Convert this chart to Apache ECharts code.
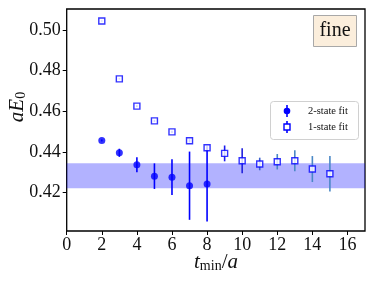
<!DOCTYPE html>
<html><head><meta charset="utf-8">
<script src="https://cdn.jsdelivr.net/npm/echarts@6/dist/echarts.min.js"></script>
<style>html,body{margin:0;padding:0;background:#fff}#c{width:374px;height:284px}</style>
</head><body><div id="c"></div>
<script>
const tmin2 = [2,3,4,5,6,7,8];
const e2 = [0.4456,0.4395,0.4336,0.4280,0.4275,0.4233,0.4241];
const err2 = [0.0005,0.0020,0.0037,0.0063,0.0088,0.0168,0.0184];
const tmin1 = [2,3,4,5,6,7,8,9,10,11,12,13,14,15];
const e1 = [0.5044,0.4759,0.4625,0.4552,0.4498,0.4454,0.4420,0.4392,0.4356,0.4340,0.4351,0.4356,0.4315,0.4292];
const err1 = [0.0003,0.0003,0.0004,0.0005,0.0006,0.0008,0.0010,0.0039,0.0062,0.0031,0.0038,0.0052,0.0064,0.0087];
const band = [0.4220, 0.4343];
const xTicks = [0,2,4,6,8,10,12,14,16];
const yTicks = [0.42,0.44,0.46,0.48,0.50];

const errColor1 = ['#1a1aee','#1a1aee','#1a1aee','#1a1aee','#1a1aee','#1a1aee','#1a1aee','#1a1aee','#2222dd','#3a5fd0','#4a86c4','#4a88c6','#4a88c6','#4a88c6'];
const serif = '"Liberation Serif","DejaVu Serif",serif';

function errSeries(xs, ys, es, colorFn, z){
  return {
    type:'custom', z:z,
    data: xs.map((x,i)=>[x, ys[i]-es[i], ys[i]+es[i], i]),
    renderItem:(params, api)=>{
      const p0 = api.coord([api.value(0), api.value(1)]);
      const p1 = api.coord([api.value(0), api.value(2)]);
      return {type:'line', shape:{x1:p0[0],y1:p0[1],x2:p1[0],y2:p1[1]},
        style:{stroke:colorFn(api.value(3)), lineWidth:1.6}};
    },
    silent:true
  };
}

const chart = echarts.init(document.getElementById('c'), null, {renderer:'canvas'});
chart.setOption({
  animation:false,
  grid:{left:66.7, top:9, right:9, bottom:53, show:true, borderColor:'#000', borderWidth:1.3, backgroundColor:'transparent'},
  xAxis:{type:'value', min:0, max:17,
    axisLine:{show:false}, splitLine:{show:false},
    axisTick:{show:true, customValues:xTicks, length:4, lineStyle:{color:'#000', width:1}},
    axisLabel:{customValues:xTicks, fontFamily:serif, fontSize:18, color:'#111', margin:5}
  },
  yAxis:{type:'value', min:0.401, max:0.5103,
    axisLine:{show:false}, splitLine:{show:false},
    axisTick:{show:true, customValues:yTicks, length:4, lineStyle:{color:'#000', width:1}},
    axisLabel:{customValues:yTicks, fontFamily:serif, fontSize:18, color:'#111', margin:6,
      formatter:v=>v.toFixed(2)}
  },
  series:[
    {type:'line', data:[], z:1,
     markArea:{silent:true, itemStyle:{color:'rgba(0,0,255,0.3)'},
       data:[[{yAxis:band[0]},{yAxis:band[1]}]]}},
    errSeries(tmin2, e2, err2, ()=> '#0000ff', 3),
    {type:'scatter', z:4, symbol:'circle', symbolSize:7,
     itemStyle:{color:'#0000ff'}, data:tmin2.map((x,i)=>[x,e2[i]])},
    errSeries(tmin1, e1, err1, i=>errColor1[i], 5),
    {type:'scatter', z:6, symbol:'rect', symbolSize:6,
     itemStyle:{color:'#fff', borderColor:'#0000ff', borderWidth:1.4}, data:tmin1.map((x,i)=>[x,e1[i]])}
  ],
  graphic:[
    {type:'text', left:null, x:216, y:262, style:{text:'{i|t}{s|min}{n|/}{i|a}', align:'center', verticalAlign:'middle',
      rich:{i:{fontFamily:serif, fontStyle:'italic', fontSize:21, fill:'#111'},
            s:{fontFamily:serif, fontSize:14, fill:'#111', padding:[8,0,0,0]},
            n:{fontFamily:serif, fontSize:21, fill:'#111'}}}},
    {type:'text', x:17, y:107, rotation:Math.PI/2, style:{text:'{i|aE}{s|0}', align:'center', verticalAlign:'middle',
      rich:{i:{fontFamily:serif, fontStyle:'italic', fontSize:21, fill:'#111'},
            s:{fontFamily:serif, fontSize:14, fill:'#111', padding:[8,0,0,0]}}}},
    {type:'rect', shape:{x:313.5, y:15.5, width:43, height:31}, style:{fill:'#fbeedc', stroke:'#a8a8a8', lineWidth:1}, z:10},
    {type:'text', x:335, y:31, style:{text:'fine', fontFamily:serif, fontSize:20, fill:'#111', align:'center', verticalAlign:'middle'}, z:11},
    {type:'rect', shape:{x:270.5, y:101.5, width:88, height:38, r:3}, style:{fill:'rgba(255,255,255,0.85)', stroke:'#d0d0d0', lineWidth:1}, z:10},
    {type:'line', shape:{x1:287, y1:105, x2:287, y2:117}, style:{stroke:'#0000ff', lineWidth:1.6}, z:11},
    {type:'circle', shape:{cx:287, cy:111, r:3.3}, style:{fill:'#0000ff'}, z:12},
    {type:'text', x:308, y:111, style:{text:'2-state fit', fontFamily:serif, fontSize:10.5, fill:'#111', verticalAlign:'middle'}, z:11},
    {type:'line', shape:{x1:287, y1:121, x2:287, y2:133}, style:{stroke:'#0000ff', lineWidth:1.6}, z:11},
    {type:'rect', shape:{x:284, y:124, width:6, height:6}, style:{fill:'#fff', stroke:'#0000ff', lineWidth:1.4}, z:12},
    {type:'text', x:308, y:127, style:{text:'1-state fit', fontFamily:serif, fontSize:10.5, fill:'#111', verticalAlign:'middle'}, z:11}
  ]
});
</script></body></html>
